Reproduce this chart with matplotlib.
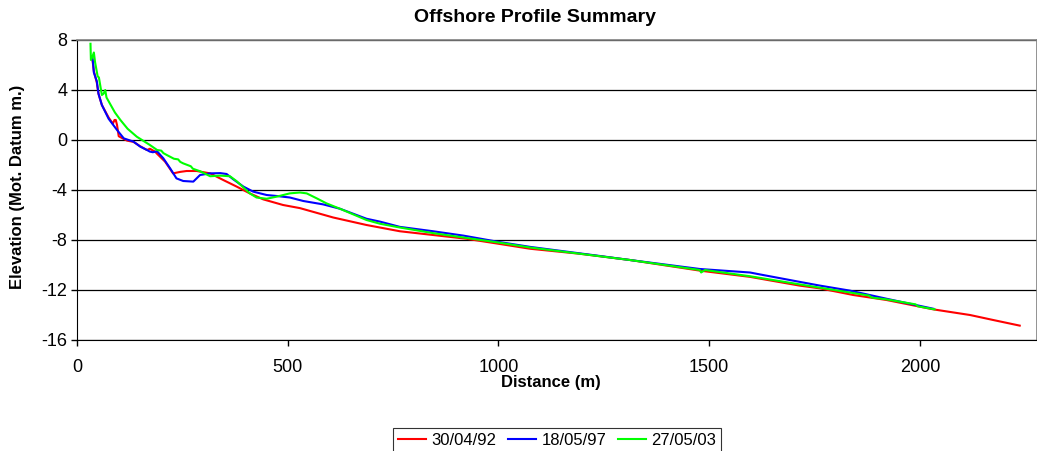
import matplotlib
matplotlib.use("Agg")
import matplotlib.pyplot as plt

plt.rcParams["font.family"] = ["Liberation Sans", "DejaVu Sans"]
plt.rcParams["axes.unicode_minus"] = False

# profile data (distance m, elevation m)
dist_92 = [36, 40, 47, 51, 59, 75, 85, 89, 92, 95, 99, 110, 119, 134, 150, 166, 173, 186,
           189, 209, 228, 245, 260, 284, 316, 347, 379, 410, 442, 489, 529, 608, 687,
           766, 845, 924, 1000, 1075, 1193, 1312, 1478, 1597, 1715, 1763, 1842, 1921,
           2032, 2119, 2174, 2237]
elev_92 = [6.6, 5.5, 4.6, 3.7, 2.8, 1.8, 1.3, 1.6, 1.6, 1.2, 0.3, 0.1, -0.05, -0.15,
           -0.5, -0.8, -0.7, -0.95, -1.07, -1.73, -2.67, -2.55, -2.48, -2.48, -2.67,
           -3.2, -3.73, -4.27, -4.75, -5.2, -5.45, -6.2, -6.8, -7.3, -7.6, -7.9, -8.3,
           -8.7, -9.1, -9.6, -10.45, -10.95, -11.65, -11.87, -12.4, -12.8, -13.55,
           -14.0, -14.4, -14.85]

dist_97 = [36, 38, 40, 47, 51, 59, 75, 95, 111, 134, 150, 166, 173, 180, 190, 205, 221,
           236, 252, 276, 292, 316, 340, 355, 371, 395, 418, 450, 474, 505, 537, 584,
           624, 687, 719, 766, 845, 917, 1000, 1075, 1241, 1312, 1478, 1597, 1620, 1715,
           1763, 1834, 1921, 2032]
elev_97 = [6.7, 6.2, 5.4, 4.7, 3.7, 2.8, 1.7, 0.8, 0.13, -0.13, -0.53, -0.8, -0.93,
           -0.98, -0.9, -1.47, -2.27, -3.07, -3.28, -3.33, -2.8, -2.67, -2.65, -2.72,
           -3.15, -3.73, -4.13, -4.4, -4.48, -4.6, -4.88, -5.15, -5.5, -6.3, -6.53,
           -6.95, -7.3, -7.65, -8.15, -8.55, -9.28, -9.6, -10.32, -10.6, -10.75,
           -11.35, -11.65, -12.05, -12.7, -13.5]

dist_03 = [32, 33, 36, 40, 43, 49, 52, 59, 63, 67, 70, 75, 90, 103, 120, 142, 173, 190,
           200, 205, 213, 230, 240, 245, 252, 270, 275, 292, 316, 340, 363, 379, 410,
           426, 450, 474, 505, 529, 545, 569, 592, 624, 687, 719, 766, 845, 917, 1000,
           1075, 1241, 1312, 1478, 1481, 1490, 1597, 1715, 1760, 1834, 1880, 1885,
           1921, 1990, 1995, 2035]
elev_03 = [7.7, 6.4, 6.6, 7.0, 6.2, 5.1, 5.0, 3.6, 3.7, 4.0, 3.4, 3.1, 2.2, 1.6, 0.9,
           0.26, -0.4, -0.8, -0.85, -1.05, -1.2, -1.5, -1.55, -1.75, -1.87, -2.1, -2.3,
           -2.5, -2.9, -2.85, -2.9, -3.3, -4.27, -4.6, -4.7, -4.53, -4.27, -4.2, -4.27,
           -4.67, -5.07, -5.5, -6.4, -6.7, -7.0, -7.45, -7.8, -8.2, -8.6, -9.3, -9.6,
           -10.4, -10.6, -10.4, -10.9, -11.55, -11.8, -12.2, -12.45, -12.6, -12.75,
           -13.15, -13.3, -13.55]

labels = ["30/04/92", "18/05/97", "27/05/03"]
colors = ["#ff0000", "#0000ff", "#00ff00"]

fig = plt.figure(figsize=(10.37, 4.51), dpi=100)
ax = fig.add_axes([77 / 1037, 1 - 340 / 451, 960 / 1037, 300 / 451])

for xs, ys, lab, c in zip([dist_92, dist_97, dist_03], [elev_92, elev_97, elev_03],
                          labels, colors):
    ax.plot(xs, ys, color=c, lw=1.5, label=lab)

ax.set_xlim(0, 2278)
ax.set_ylim(-16, 8)
ax.set_yticks(range(-16, 9, 4))
ax.set_xticks(range(0, 2001, 500))
ax.yaxis.grid(True, color="black", lw=0.9)
ax.set_axisbelow(True)
ax.tick_params(axis="both", direction="out", length=4, width=1, labelsize=13,
               color="black")
ax.tick_params(axis="y", pad=3)
ax.tick_params(axis="x", pad=10)
for s in ["left", "bottom"]:
    ax.spines[s].set_color("black")
for s in ["top", "right"]:
    ax.spines[s].set_color("#808080")
    ax.spines[s].set_linewidth(1.2)

fig.text(535 / 1037, 1 - 18 / 451, "Offshore Profile Summary", ha="center",
         va="center", fontsize=14, fontweight="bold")
fig.text(551 / 1037, 1 - 382 / 451, "Distance (m)", ha="center", va="center",
         fontsize=12, fontweight="bold")
fig.text(18 / 1037, 1 - 187 / 451, "Elevation (Mot. Datum m.)", ha="center",
         va="center", rotation=90, fontsize=12, fontweight="bold")

leg = fig.legend(loc="upper center", bbox_to_anchor=(557 / 1037, 1 - 428 / 451),
                 ncol=3, fontsize=12, frameon=True, fancybox=False,
                 handlelength=1.7, handletextpad=0.3, columnspacing=0.7,
                 borderpad=0.3, borderaxespad=0)
leg.get_frame().set_edgecolor("black")
leg.get_frame().set_linewidth(0.8)

fig.savefig("out.png", dpi=100)
